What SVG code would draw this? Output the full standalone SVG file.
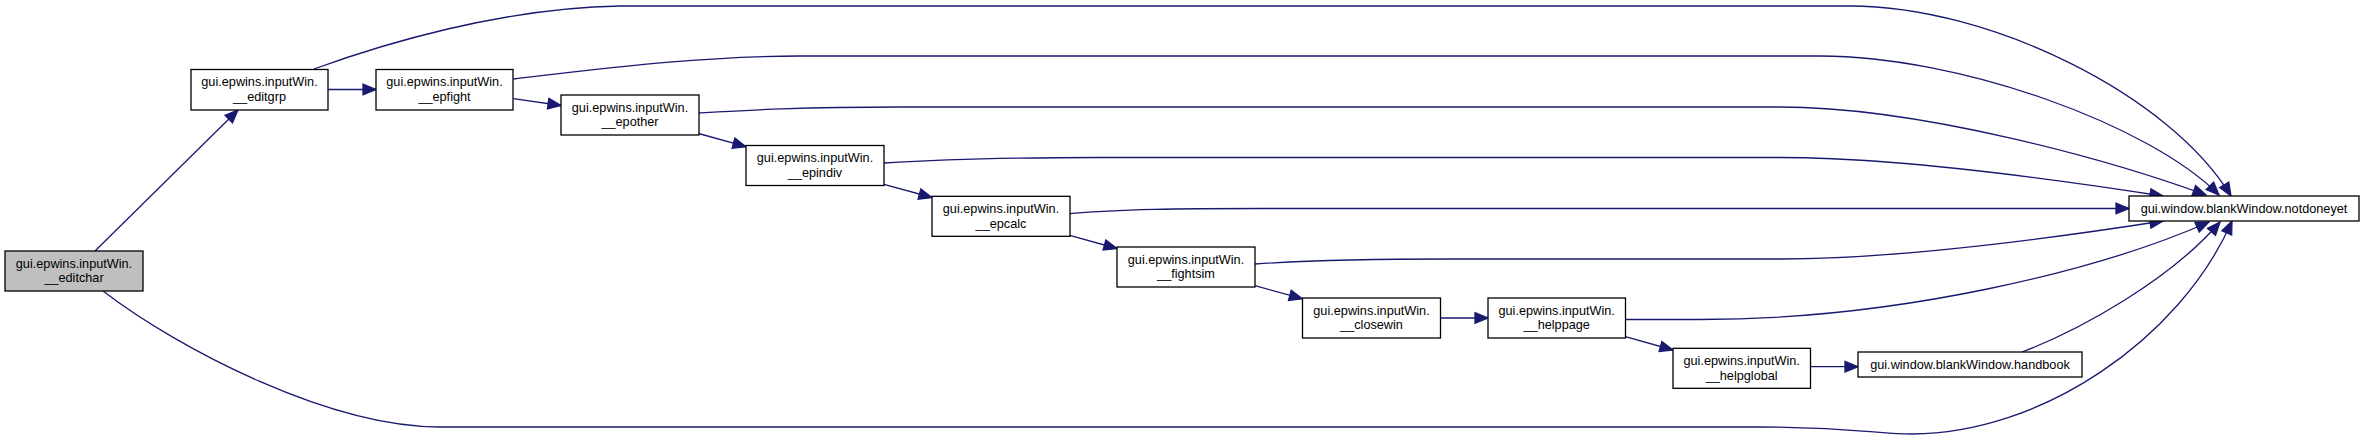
<svg xmlns="http://www.w3.org/2000/svg" width="2364" height="440" viewBox="0 0 2364 440">
<style>
.n rect{fill:#ffffff;stroke:#000000;stroke-width:1.3}
.n.cur rect{fill:#bfbfbf}
.n text{font-family:"Liberation Sans",Arial,Helvetica,sans-serif;font-size:12.7px;fill:#000000;text-anchor:middle}
.e path{fill:none;stroke:#191970;stroke-width:1.3;marker-end:url(#arr)}
</style>
<defs>
<marker id="arr" markerUnits="userSpaceOnUse" markerWidth="16" markerHeight="14" viewBox="0 0 16 14" refX="14" refY="7" orient="auto">
<path d="M1,1.7 L14,7 L1,12.3 Z" fill="#191970" stroke="#191970" stroke-width="1.3"/>
</marker>
</defs>
<rect width="2364" height="440" fill="#ffffff"/>
<g id="edges" class="e">
<path d="M95,251 L238,110"/>
<path d="M103,291 C180,350 330,427 440,427 L1760,427 C1850,427 1880,434 1912,434 C2040,434 2180,340 2232,221"/>
<path d="M328,89.5 L376,89.5"/>
<path d="M314,69 C380,45 500,8 620,6 L1850,6 C1990,6 2170,95 2231,196"/>
<path d="M513.5,79 C600,69 700,56 800,56 L1820,56 C1960,56 2150,125 2219,195"/>
<path d="M513.5,98.7 L561,105.5"/>
<path d="M699,113 C750,110 800,107 900,107 L1780,107 C1920,107 2110,160 2206,195"/>
<path d="M698.5,133.5 L746,146.7"/>
<path d="M884,163 C950,159 1000,157.5 1100,157.5 L1780,157.5 C1900,157.5 2060,180 2163,196"/>
<path d="M884,184.3 L932,197.5"/>
<path d="M1070,213.7 C1120,209 1180,208.5 1260,208.5 L2129,208.5"/>
<path d="M1069.7,235.3 L1117,248.5"/>
<path d="M1255,264 C1300,261 1350,259 1450,259 L1780,259 C1900,259 2060,237 2163,221"/>
<path d="M1255,285.7 L1302.4,298.7"/>
<path d="M1440,318 L1488,318"/>
<path d="M1625.4,319.5 L1700,319.5 C1900,319.5 2100,270 2209,222"/>
<path d="M1625.4,336.7 L1673,350"/>
<path d="M1810.5,366.7 L1858,366.7"/>
<path d="M2022,352 C2080,330 2170,280 2220,222"/>
</g>
<g id="editchar" class="n cur"><rect x="5" y="251" width="138" height="40"/><text x="74" y="267.7">gui.epwins.inputWin.</text><text x="74" y="282.3">__editchar</text></g>
<g id="editgrp" class="n"><rect x="191" y="69.5" width="137" height="40.5"/><text x="259.5" y="86.2">gui.epwins.inputWin.</text><text x="259.5" y="100.8">__editgrp</text></g>
<g id="epfight" class="n"><rect x="376" y="69.5" width="137" height="40.5"/><text x="444.5" y="86.2">gui.epwins.inputWin.</text><text x="444.5" y="100.8">__epfight</text></g>
<g id="epother" class="n"><rect x="561" y="95" width="138" height="40"/><text x="630" y="111.7">gui.epwins.inputWin.</text><text x="630" y="126.3">__epother</text></g>
<g id="epindiv" class="n"><rect x="746" y="145.5" width="138" height="40"/><text x="815" y="162.2">gui.epwins.inputWin.</text><text x="815" y="176.8">__epindiv</text></g>
<g id="epcalc" class="n"><rect x="932" y="196.3" width="138" height="40"/><text x="1001" y="213">gui.epwins.inputWin.</text><text x="1001" y="227.6">__epcalc</text></g>
<g id="fightsim" class="n"><rect x="1117" y="247" width="138" height="40"/><text x="1186" y="263.7">gui.epwins.inputWin.</text><text x="1186" y="278.3">__fightsim</text></g>
<g id="closewin" class="n"><rect x="1302.5" y="298" width="138" height="40"/><text x="1371.5" y="314.7">gui.epwins.inputWin.</text><text x="1371.5" y="329.3">__closewin</text></g>
<g id="helppage" class="n"><rect x="1488" y="298" width="137.5" height="40"/><text x="1556.7" y="314.7">gui.epwins.inputWin.</text><text x="1556.7" y="329.3">__helppage</text></g>
<g id="helpglobal" class="n"><rect x="1673" y="348.3" width="137.5" height="40"/><text x="1741.7" y="365">gui.epwins.inputWin.</text><text x="1741.7" y="379.6">__helpglobal</text></g>
<g id="handbook" class="n"><rect x="1858" y="352" width="224" height="25"/><text x="1970" y="368.5">gui.window.blankWindow.handbook</text></g>
<g id="notdoneyet" class="n"><rect x="2129" y="196" width="230" height="25"/><text x="2244" y="212.5">gui.window.blankWindow.notdoneyet</text></g>
</svg>
